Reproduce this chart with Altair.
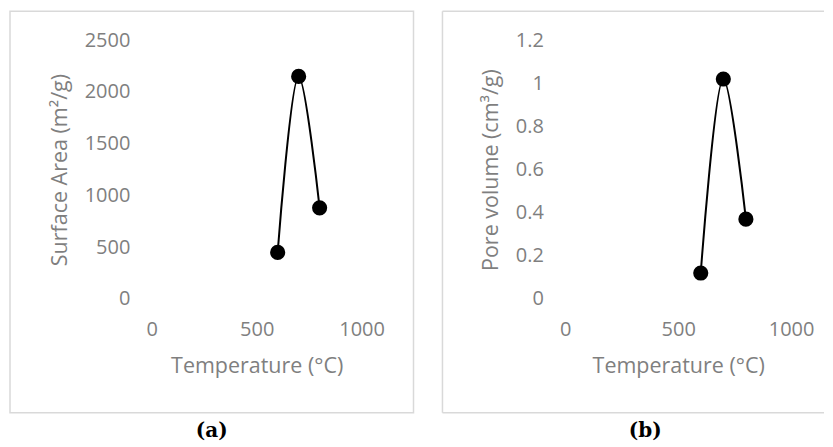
import altair as alt
import pandas as pd

# ---- data ----
temperature = [600, 700, 800]
surface_area = [450, 2150, 880]
pore_volume = [0.12, 1.02, 0.37]

x_ticks = [0, 500, 1000]
sa_ticks = [0, 500, 1000, 1500, 2000, 2500]
pv_ticks = [0, 0.2, 0.4, 0.6, 0.8, 1.0, 1.2]

GRAY = "#7f7f7f"
FRAME = "#d9d9d9"
FONT = "Open Sans"
FS = 20
TFS = 21.5

one = pd.DataFrame({"k": [0]})


def panel(values, ytitle, ydomain, yticks, yfmt, width, height, title_x,
          frame_l, frame_r, frame_t, frame_b, full_box, caption, cap_x, cap_y):
    df = pd.DataFrame({"T": temperature, "v": values})
    x = alt.X("T:Q",
              scale=alt.Scale(domain=[0, 1000], nice=False, zero=False),
              axis=alt.Axis(values=x_ticks, format="d", title="Temperature (°C)",
                            labelFlush=False, labelPadding=21, labelOverlap=False,
                            titleY=68, titleBaseline="middle"))
    y = alt.Y("v:Q",
              scale=alt.Scale(domain=ydomain, nice=False, zero=False),
              axis=alt.Axis(values=yticks, format=yfmt, title=ytitle,
                            labelFlush=False, labelPadding=22, labelOverlap=False,
                            titleX=title_x, titleY=height / 2, titleAngle=270,
                            titleAlign="center", titleBaseline="middle"))
    line = alt.Chart(df).mark_line(color="black", strokeWidth=2,
                                   interpolate="catmull-rom").encode(x=x, y=y)
    pts = alt.Chart(df).mark_circle(color="black", opacity=1, size=230).encode(
        x="T:Q", y="v:Q")
    layers = []
    if full_box:
        layers.append(alt.Chart(one).mark_rect(fill=None, stroke=FRAME, strokeWidth=1.5).encode(
            x=alt.value(frame_l), x2=alt.value(frame_r),
            y=alt.value(frame_t), y2=alt.value(frame_b)))
    else:
        layers.append(alt.Chart(one).mark_rule(color=FRAME, strokeWidth=1.5).encode(
            x=alt.value(frame_l), x2=alt.value(frame_r), y=alt.value(frame_t)))
        layers.append(alt.Chart(one).mark_rule(color=FRAME, strokeWidth=1.5).encode(
            x=alt.value(frame_l), x2=alt.value(frame_r), y=alt.value(frame_b)))
        layers.append(alt.Chart(one).mark_rule(color=FRAME, strokeWidth=1.5).encode(
            x=alt.value(frame_l), y=alt.value(frame_t), y2=alt.value(frame_b)))
    cap = alt.Chart(one).mark_text(font="DejaVu Serif", fontWeight="bold", fontSize=20,
                                   color="black", baseline="middle", align="center").encode(
        x=alt.value(cap_x), y=alt.value(cap_y), text=alt.value(caption))
    return alt.layer(*layers, line, pts, cap).properties(width=width, height=height)


left = panel(surface_area, "Surface Area (m²/g)", [0, 2500], sa_ticks, "d",
             210, 259, -91, -142, 262, -29, 373, True, "(a)", 60, 391)
right = panel(pore_volume, "Pore volume (cm³/g)", [0, 1.2], pv_ticks, "~g",
              226, 259, -74, -123, 259, -29, 373, False, "(b)", 80, 391)

chart = alt.hconcat(left, right, spacing=204, bounds="flush").configure(
    padding={"left": 1, "top": 2, "right": 0, "bottom": 0}
).configure_view(stroke=None).configure_axis(
    domain=False, ticks=False, grid=False,
    labelFont=FONT, labelFontSize=FS, labelColor=GRAY,
    titleFont=FONT, titleFontSize=TFS, titleColor=GRAY, titleFontWeight="normal"
)

chart.save("out.html", embed_options={"renderer": "svg", "actions": False})
